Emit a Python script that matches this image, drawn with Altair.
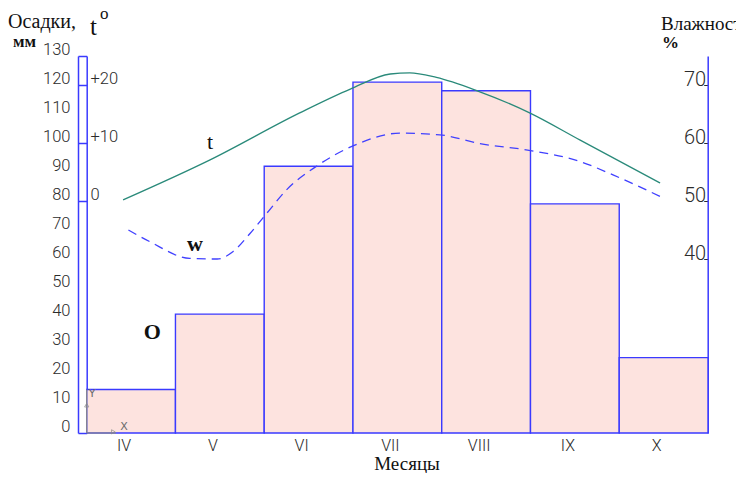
import altair as alt
import pandas as pd

# ---------------- data ----------------
months = ["IV", "V", "VI", "VII", "VIII", "IX", "X"]
precip_mm = [15, 41, 92, 121, 118, 79, 26]

# temperature curve (position in month units, degrees C)
temp_pos = [0.41, 1.39, 2.40, 2.97, 3.42, 3.64, 3.94, 4.40, 4.99, 5.56, 6.46]
temp_c = [0.2, 7.1, 15.2, 19.3, 21.9, 22.1, 21.3, 19.0, 15.2, 10.5, 3.1]

# humidity curve (position in month units, percent)
hum_pos = [0.47, 0.71, 1.16, 1.47, 1.65, 1.84, 2.03, 2.25, 2.59, 3.00, 3.53,
           3.98, 4.43, 5.00, 5.56, 5.93, 6.50]
hum_pct = [45.0, 43.0, 40.1, 40.0, 41.3, 44.4, 47.9, 51.9, 56.0, 59.5, 61.7,
           61.4, 59.9, 58.7, 56.8, 54.5, 50.5]

mm_ticks = list(range(0, 131, 10))
temp_ticks = [-40, 0, 10, 20, 25]
hum_ticks = [40, 50, 60, 70]

# in-plot letters: text, position (month units), height (mm)
note_text = ["t", "w", "O"]
note_pos = [1.39, 1.22, 0.74]
note_mm = [100.5, 65.3, 34.7]
note_bold = [False, True, True]

# ---------------- styling ----------------
NUMFONT = "Roboto"
SERIF = "Liberation Serif"
BLUE = "#3a3aff"
LABEL = "#2b2b2b"

W, H = 630, 377

bars_df = pd.DataFrame({
    "month": months,
    "start": list(range(len(months))),
    "end": [i + 1 for i in range(len(months))],
    "center": [i + 0.5 for i in range(len(months))],
    "mm": precip_mm,
})
temp_df = pd.DataFrame({"pos": temp_pos, "t": temp_c})
hum_df = pd.DataFrame({"pos": hum_pos, "h": hum_pct})
note_df = pd.DataFrame({"txt": note_text, "pos": note_pos, "mm": note_mm,
                        "bold": note_bold})

xscale = alt.Scale(domain=[-0.098, 7.0], nice=False, zero=False)
mmscale = alt.Scale(domain=[0, 130], nice=False, zero=False)

mm_axis = alt.Axis(
    orient="left", values=mm_ticks, grid=False, ticks=True, tickSize=0,
    tickOpacity=0, title=None, domainColor=BLUE, domainWidth=1.5,
    labelFont=NUMFONT, labelFontWeight=300, labelFontSize=16.5, labelColor=LABEL,
    labelAlign="right", labelPadding=8, labelBaseline="alphabetic", labelOffset=-1.5,
    labelOverlap=False, labelBound=False, labelFlush=False,
)

bars = alt.Chart(bars_df).mark_rect(
    fill="#fde3df", stroke=BLUE, strokeWidth=1.4
).encode(
    x=alt.X("start:Q", scale=xscale, axis=None),
    x2="end:Q",
    y=alt.Y("mm:Q", scale=mmscale, axis=mm_axis),
    y2=alt.datum(0),
)

# month names under the bars (x from the shared month scale)
month_labels = alt.Chart(bars_df).mark_text(
    font=NUMFONT, fontWeight=300, fontSize=16, color=LABEL,
    align="center", baseline="alphabetic", dx=-7,
).encode(
    x=alt.X("center:Q", scale=xscale, axis=None),
    y=alt.value(H + 18),
    text="month:N",
)

def notes_layer(bold):
    return alt.Chart(note_df).transform_filter(
        alt.datum.bold == bold
    ).mark_text(
        font=SERIF, fontSize=22, color="#111111", baseline="middle", align="center",
        fontWeight="bold" if bold else "normal",
    ).encode(
        x=alt.X("pos:Q", scale=xscale, axis=None),
        y=alt.Y("mm:Q", scale=mmscale, axis=None),
        text="txt:N",
    )

# small gray X/Y coordinate icon at the bottom-left corner
icon_v = alt.Chart(pd.DataFrame({"x": [0], "y1": [0], "y2": [precip_mm[0]]})).mark_rule(
    color="#8a8a8a", strokeWidth=1.2
).encode(
    x=alt.X("x:Q", scale=xscale, axis=None),
    y=alt.Y("y1:Q", scale=mmscale, axis=None), y2="y2:Q",
)
icon_h = alt.Chart(pd.DataFrame({"x1": [0], "x2": [0.33], "y": [0]})).mark_rule(
    color="#8a8a8a", strokeWidth=1.2
).encode(
    x=alt.X("x1:Q", scale=xscale, axis=None), x2="x2:Q",
    y=alt.Y("y:Q", scale=mmscale, axis=None),
)
icon_txt = alt.Chart(pd.DataFrame({"txt": ["Y", "X"], "x": [0.06, 0.42], "y": [13.3, 2.0]})).mark_text(
    font="DejaVu Sans", fontSize=11, color="#6a6a6a"
).encode(
    x=alt.X("x:Q", scale=xscale, axis=None),
    y=alt.Y("y:Q", scale=mmscale, axis=None),
    text="txt:N",
)
icon_tri = alt.Chart(pd.DataFrame({"x": [0.0, 0.3], "y": [9.6, 0.4],
                                   "shape": ["triangle-up", "triangle-right"]})).mark_point(
    size=18, filled=False, color="#8a8a8a", strokeWidth=1
).encode(
    x=alt.X("x:Q", scale=xscale, axis=None),
    y=alt.Y("y:Q", scale=mmscale, axis=None),
    shape=alt.Shape("shape:N", scale=None, legend=None),
)

def label(txt, x, y, size, weight="normal", align="left"):
    return alt.Chart(pd.DataFrame({"a": [0]})).mark_text(
        text=txt, font=SERIF, fontSize=size, fontWeight=weight,
        align=align, baseline="alphabetic", color="#111111"
    ).encode(x=alt.value(x), y=alt.value(y))

titles = [
    label("Осадки,", -70, -28, 20),
    label("мм", -65, -9, 17, "bold"),
    label("t", 12, -21, 25),
    label("o", 22, -37, 17),
    label("Влажность", 583, -26, 19),
    label("%", 584, -8, 17, "bold"),
    label("Месяцы", 329, 414, 19, align="center"),
]

temp_line = alt.Chart(temp_df).mark_line(
    color="#2a8a7a", strokeWidth=1.3, interpolate="monotone"
).encode(
    x=alt.X("pos:Q", scale=xscale, axis=None),
    y=alt.Y("t:Q", scale=alt.Scale(domain=[-40, 25], nice=False, zero=False),
            axis=alt.Axis(
                orient="left", offset=-8.7, values=temp_ticks, grid=False, title=None,
                domainColor=BLUE, domainWidth=1.5, tickColor=BLUE, tickWidth=1.5,
                tickSize=8.7,
                labelExpr="datum.value > 0 && datum.value < 25 ? '+' + datum.value : (datum.value == 0 ? '0' : '')",
                labelAlign="left", labelPadding=-12, labelBaseline="alphabetic",
                labelOffset=-1.5, labelFont=NUMFONT, labelFontWeight=300,
                labelFontSize=16.5, labelColor=LABEL,
                labelOverlap=False, labelBound=False, labelFlush=False,
            )),
)

hum_line = alt.Chart(hum_df).mark_line(
    color="#4040ff", strokeWidth=1.3, strokeDash=[9, 6], interpolate="monotone"
).encode(
    x=alt.X("pos:Q", scale=xscale, axis=None),
    y=alt.Y("h:Q", scale=alt.Scale(domain=[10, 75], nice=False, zero=False),
            axis=alt.Axis(
                orient="left", offset=-629.7, values=hum_ticks, grid=False, title=None,
                domainColor=BLUE, domainWidth=1.5, tickColor=LABEL, tickWidth=1,
                tickSize=4,
                labelAlign="right", labelPadding=-2, labelBaseline="alphabetic",
                labelOffset=0, labelFont=NUMFONT, labelFontWeight=300,
                labelFontSize=20, labelColor=LABEL,
                labelOverlap=False, labelBound=False, labelFlush=False,
            )),
)

chart = alt.layer(
    bars, month_labels, icon_v, icon_h, icon_tri, icon_txt,
    notes_layer(False), notes_layer(True), *titles,
    temp_line, hum_line,
).resolve_scale(
    y="independent"
).properties(
    width=W, height=H,
    background="white",
    autosize=alt.AutoSizeParams(type="none"),
    padding={"left": 70, "top": 48, "right": 28, "bottom": 40},
).configure_view(stroke=None)

chart.save("out.html", embed_options={"renderer": "svg", "actions": False})
